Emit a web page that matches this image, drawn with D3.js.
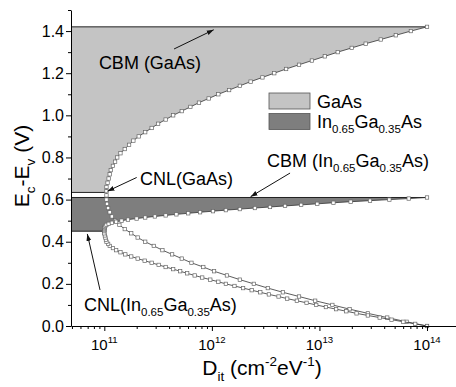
<!DOCTYPE html>
<html>
<head>
<meta charset="utf-8">
<script src="https://cdn.jsdelivr.net/npm/d3@7"></script>
<style>
  body { margin: 0; background: #fff; }
  svg { display: block; font-family: "Liberation Sans", Arial, sans-serif; }
</style>
</head>
<body>
<div id="chart"></div>
<script>
// Data

let yTicks = [0, 0.2, 0.4, 0.6, 0.8, 1.0, 1.2, 1.4];
let yMinorTicks = [0.1, 0.3, 0.5, 0.7, 0.9, 1.1, 1.3, 1.5];
let xTicks = [1e11, 1e12, 1e13, 1e14];
let xTickExp = ['11', '12', '13', '14'];

// GaAs: energy (V) vs log10 Dit
let gaasEnergy = [
  0.00, 0.02, 0.04, 0.06, 0.08, 0.10, 0.12, 0.14, 0.16, 0.18,
  0.20, 0.22, 0.24, 0.26, 0.28, 0.30, 0.32, 0.34, 0.36, 0.38,
  0.40, 0.42, 0.44, 0.46, 0.48, 0.50, 0.52, 0.54, 0.56, 0.58,
  0.60, 0.62,
  0.64, 0.66, 0.68, 0.70, 0.72, 0.74, 0.76, 0.78, 0.80, 0.82,
  0.84, 0.86, 0.88, 0.90, 0.92, 0.94, 0.96, 0.98, 1.00, 1.02,
  1.04, 1.06, 1.08, 1.10, 1.12, 1.14, 1.16, 1.18, 1.20, 1.22,
  1.24, 1.26, 1.28, 1.30, 1.32, 1.34, 1.36, 1.38, 1.40, 1.42
];
let gaasLogDit = [
  14.00, 13.81, 13.63, 13.45, 13.28, 13.12, 12.96, 12.81, 12.66, 12.52,
  12.39, 12.26, 12.14, 12.02, 11.92, 11.81, 11.72, 11.63, 11.54, 11.46,
  11.38, 11.31, 11.25, 11.19, 11.14, 11.10, 11.07, 11.05, 11.035, 11.025,
  11.02, 11.02,
  11.02, 11.02, 11.03, 11.04, 11.05, 11.06, 11.08, 11.10, 11.12, 11.15,
  11.19, 11.23, 11.27, 11.32, 11.38, 11.44, 11.50, 11.57, 11.64, 11.72,
  11.80, 11.88, 11.97, 12.06, 12.16, 12.26, 12.36, 12.47, 12.58, 12.69,
  12.81, 12.93, 13.05, 13.17, 13.30, 13.43, 13.57, 13.71, 13.85, 14.00
];

// In0.65Ga0.35As: energy (V) vs log10 Dit
let ingaasEnergy = [
  0.00, 0.01, 0.02, 0.03, 0.04, 0.05, 0.06, 0.07, 0.08, 0.09,
  0.10, 0.11, 0.12, 0.13, 0.14, 0.15, 0.16, 0.17, 0.18, 0.19,
  0.20, 0.21, 0.22, 0.23, 0.24, 0.25, 0.26, 0.27, 0.28, 0.29,
  0.30, 0.31, 0.32, 0.33, 0.34, 0.35, 0.36, 0.37, 0.38, 0.39,
  0.40, 0.41, 0.42, 0.43, 0.44, 0.45,
  0.455, 0.46, 0.465, 0.47, 0.475, 0.48, 0.485, 0.49, 0.495, 0.50,
  0.505, 0.51, 0.515, 0.52, 0.525, 0.53, 0.535, 0.54, 0.545, 0.55,
  0.555, 0.56, 0.565, 0.57, 0.575, 0.58, 0.585, 0.59, 0.595, 0.60,
  0.605, 0.61
];
let ingaasLogDit = [
  14.00, 13.89, 13.78, 13.67, 13.56, 13.45, 13.345, 13.25, 13.155, 13.06,
  12.97, 12.88, 12.79, 12.70, 12.62, 12.53, 12.45, 12.37, 12.29, 12.21,
  12.13, 12.06, 11.985, 11.91, 11.84, 11.77, 11.705, 11.64, 11.57, 11.505,
  11.44, 11.375, 11.31, 11.25, 11.195, 11.15, 11.11, 11.08, 11.05, 11.035,
  11.02, 11.015, 11.01, 11.005, 11.00, 11.00,
  11.00, 11.00, 11.00, 11.003, 11.01, 11.02, 11.04, 11.07, 11.11, 11.16,
  11.22, 11.30, 11.38, 11.47, 11.57, 11.67, 11.78, 11.89, 12.01, 12.13,
  12.26, 12.40, 12.54, 12.68, 12.83, 12.98, 13.13, 13.29, 13.47, 13.65,
  13.83, 14.00
];

// band levels (V)
let cbmGaAs = 1.42;
let cnlGaAs = 0.634;
let cbmInGaAs = 0.61;
let cnlInGaAs = 0.45;

// Layout

let width = 456;
let height = 387;
let fontFamily = '"Liberation Sans", Arial, sans-serif';

let x = d3.scaleLog().domain([4.9e10, 1.86e14]).range([71, 456]);
let y = d3.scaleLinear().domain([0, 1.5]).range([326, 10]);
let xMin = x.domain()[0];

let svg = d3.select('#chart').append('svg').attr('width', width).attr('height', height);

svg
  .append('defs')
  .append('marker')
  .attr('id', 'arrow')
  .attr('viewBox', '0 0 10 10')
  .attr('refX', 10)
  .attr('refY', 5)
  .attr('markerWidth', 7)
  .attr('markerHeight', 7)
  .attr('orient', 'auto')
  .append('path')
  .attr('d', 'M0,1.5L10,5L0,8.5z')
  .style('fill', '#111');

function toPoints(energy, logDit) {
  return energy.map(function (e, i) {
    return { e: e, d: Math.pow(10, logDit[i]) };
  });
}

let gaas = toPoints(gaasEnergy, gaasLogDit);
let ingaas = toPoints(ingaasEnergy, ingaasLogDit);

let line = d3
  .line()
  .x(function (p) {
    return x(p.d);
  })
  .y(function (p) {
    return y(p.e);
  });

// shaded region: from the CNL up to the CBM, bounded on the right by the curve
function region(points, cnl, cbm) {
  let upper = points
    .filter(function (p) {
      return p.e >= cnl;
    })
    .sort(function (a, b) {
      return b.e - a.e;
    });
  let low = upper[upper.length - 1];
  return [{ e: cbm, d: xMin }].concat(upper, [{ e: cnl, d: low.d }, { e: cnl, d: xMin }]);
}

let gaasRegion = region(gaas, cnlGaAs, cbmGaAs);
let ingaasRegion = region(ingaas, cnlInGaAs, cbmInGaAs);

svg.append('path').attr('d', line(gaasRegion) + 'Z').style('fill', '#c4c4c4');
svg.append('path').attr('d', line(ingaasRegion) + 'Z').style('fill', '#7e7e7e');

// level lines
function level(e, dEnd) {
  svg
    .append('line')
    .attr('x1', x(xMin))
    .attr('x2', x(dEnd))
    .attr('y1', y(e))
    .attr('y2', y(e))
    .style('stroke', '#222')
    .style('stroke-width', 1);
}

level(cbmGaAs, 1e14);
level(cnlGaAs, gaasRegion[gaasRegion.length - 2].d);
level(cbmInGaAs, 1e14);
level(cnlInGaAs, ingaasRegion[ingaasRegion.length - 2].d);

// curves with open square markers
function drawCurve(points) {
  svg
    .append('path')
    .attr('d', line(points))
    .style('fill', 'none')
    .style('stroke', '#333')
    .style('stroke-width', 0.8);

  svg
    .append('g')
    .selectAll('rect')
    .data(points)
    .enter()
    .append('rect')
    .attr('x', function (p) {
      return x(p.d) - 1.7;
    })
    .attr('y', function (p) {
      return y(p.e) - 1.7;
    })
    .attr('width', 3.4)
    .attr('height', 3.4)
    .style('fill', '#fff')
    .style('stroke', '#666')
    .style('stroke-width', 0.7);
}

drawCurve(gaas);
drawCurve(ingaas);

// Axes

let yAxis = svg
  .append('g')
  .attr('transform', 'translate(71,0)')
  .call(d3.axisLeft(y).tickValues(yTicks).tickFormat(d3.format('.1f')).tickSize(5).tickSizeOuter(0).tickPadding(2));

svg
  .append('g')
  .attr('transform', 'translate(71,0)')
  .call(d3.axisLeft(y).tickValues(yMinorTicks).tickFormat('').tickSize(3).tickSizeOuter(0))
  .select('.domain')
  .remove();

yAxis.selectAll('text').style('font-size', '16px').style('font-family', fontFamily).style('fill', '#000');

let xMinor = [];
[5, 6, 7, 8, 9].forEach(function (m) {
  xMinor.push(m * 1e10);
});
[1e11, 1e12, 1e13].forEach(function (dec) {
  for (let m = 2; m <= 9; m++) xMinor.push(m * dec);
});

let xAxis = svg
  .append('g')
  .attr('transform', 'translate(0,326)')
  .call(d3.axisBottom(x).tickValues(xTicks).tickFormat('').tickSize(5).tickSizeOuter(0));

svg
  .append('g')
  .attr('transform', 'translate(0,326)')
  .call(d3.axisBottom(x).tickValues(xMinor).tickFormat('').tickSize(3).tickSizeOuter(0))
  .select('.domain')
  .remove();

svg.selectAll('.domain, .tick line').style('stroke', '#000').style('stroke-width', 1);

// rich text helper: parts = [[text, 'n'|'sub'|'sup'], ...]
function rich(sel, parts, size) {
  let off = 0;
  parts.forEach(function (p) {
    let target = p[1] === 'sub' ? size * 0.3 : p[1] === 'sup' ? -size * 0.42 : 0;
    let t = sel.append('tspan').text(p[0]).attr('dy', target - off);
    if (p[1] !== 'n') t.style('font-size', size * 0.64 + 'px');
    off = target;
  });
  return sel;
}

xTicks.forEach(function (v, i) {
  let t = svg
    .append('text')
    .attr('x', x(v))
    .attr('y', 349.5)
    .attr('text-anchor', 'middle')
    .style('font-size', '15px');
  rich(t, [['10', 'n'], [xTickExp[i], 'sup']], 15);
});

// axis titles
rich(
  svg.append('text').attr('x', 262).attr('y', 375).attr('text-anchor', 'middle').style('font-size', '21px'),
  [['D', 'n'], ['it', 'sub'], [' (cm', 'n'], ['-2', 'sup'], ['eV', 'n'], ['-1', 'sup'], [')', 'n']],
  21
);

rich(
  svg
    .append('text')
    .attr('transform', 'translate(29,166) rotate(-90)')
    .attr('text-anchor', 'middle')
    .style('font-size', '21px'),
  [['E', 'n'], ['c', 'sub'], ['-E', 'n'], ['v', 'sub'], [' (V)', 'n']],
  21
);

// Annotations

function arrow(d1, e1, d2, e2) {
  svg
    .append('line')
    .attr('x1', x(d1))
    .attr('y1', y(e1))
    .attr('x2', x(d2))
    .attr('y2', y(e2))
    .style('stroke', '#111')
    .style('stroke-width', 1)
    .attr('marker-end', 'url(#arrow)');
}

function label(d, e, parts) {
  let t = svg.append('text').attr('x', x(d)).attr('y', y(e)).style('font-size', '18px');
  rich(t, parts, 18);
}

label(8.9e10, 1.22, [['CBM (GaAs)', 'n']]);
arrow(4.45e11, 1.315, 1.04e12, 1.406);

label(2.15e11, 0.67, [['CNL(GaAs)', 'n']]);
arrow(2.0e11, 0.705, 1.07e11, 0.64);

label(3.26e12, 0.756, [['CBM (In', 'n'], ['0.65', 'sub'], ['Ga', 'n'], ['0.35', 'sub'], ['As)', 'n']]);
arrow(5.33e12, 0.726, 2.29e12, 0.614);

label(6.47e10, 0.071, [['CNL(In', 'n'], ['0.65', 'sub'], ['Ga', 'n'], ['0.35', 'sub'], ['As)', 'n']]);
arrow(9.12e10, 0.171, 6.95e10, 0.437);

// Legend

let legend = svg.append('g').attr('transform', 'translate(269,93)');
let legendNames = [
  [['GaAs', 'n']],
  [['In', 'n'], ['0.65', 'sub'], ['Ga', 'n'], ['0.35', 'sub'], ['As', 'n']]
];
let legendColors = ['#c4c4c4', '#7e7e7e'];

legendNames.forEach(function (parts, i) {
  legend
    .append('rect')
    .attr('x', 0)
    .attr('y', i * 20.5)
    .attr('width', 41)
    .attr('height', 16)
    .style('fill', legendColors[i])
    .style('stroke', '#555')
    .style('stroke-width', 0.8);
  rich(
    legend.append('text').attr('x', 48).attr('y', i * 20.5 + 14.5).style('font-size', '18px'),
    parts,
    18
  );
});
</script>
</body>
</html>
